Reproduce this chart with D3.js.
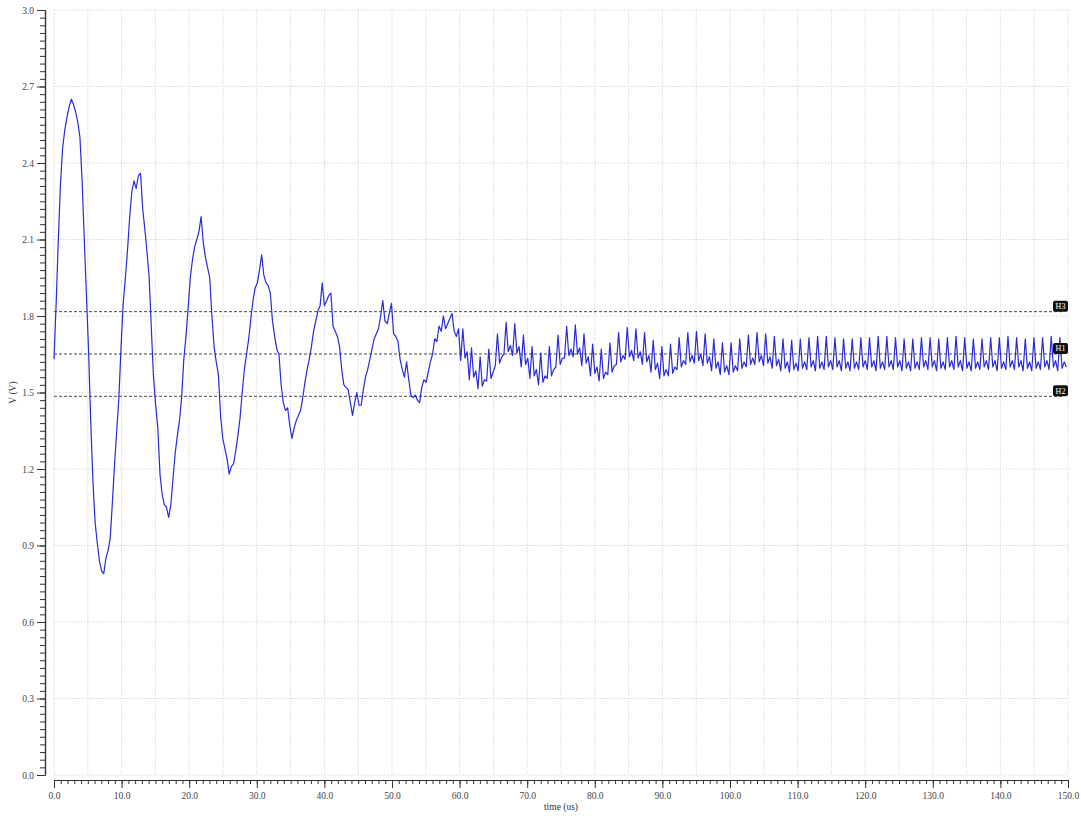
<!DOCTYPE html>
<html>
<head>
<meta charset="utf-8">
<script src="https://cdn.jsdelivr.net/npm/d3@7"></script>
<style>
  body { margin: 0; background: #fff; }
  svg { display: block; }
  .axis text { font-family: "Liberation Serif", serif; font-size: 9.5px; fill: #444; }
  .axis path, .axis line { stroke: #333; }
</style>
</head>
<body>
<div id="chart"></div>
<script>
// V(t) transient, one sample every 0.32 us
const sampleStep = 0.32; // us
const voltage = [
  1.63, 1.85, 2.10, 2.32, 2.46, 2.53, 2.58, 2.62,
  2.65, 2.63, 2.60, 2.56, 2.50, 2.33, 2.10, 1.88,
  1.66, 1.38, 1.15, 0.99, 0.91, 0.84, 0.80, 0.79,
  0.85, 0.88, 0.93, 1.07, 1.22, 1.35, 1.48, 1.68,
  1.85, 1.95, 2.06, 2.19, 2.29, 2.33, 2.30, 2.35,
  2.36, 2.22, 2.14, 2.05, 1.95, 1.75, 1.56, 1.45,
  1.36, 1.18, 1.10, 1.06, 1.05, 1.01, 1.06, 1.16,
  1.26, 1.33, 1.39, 1.48, 1.63, 1.72, 1.83, 1.95,
  2.02, 2.07, 2.10, 2.13, 2.19, 2.09, 2.03, 1.99,
  1.95, 1.80, 1.68, 1.62, 1.57, 1.41, 1.32, 1.28,
  1.24, 1.18, 1.21, 1.22, 1.27, 1.33, 1.40, 1.50,
  1.59, 1.65, 1.71, 1.79, 1.86, 1.91, 1.93, 1.98,
  2.04, 1.96, 1.93, 1.92, 1.89, 1.78, 1.72, 1.67,
  1.65, 1.53, 1.46, 1.43, 1.44, 1.37, 1.32, 1.36,
  1.39, 1.41, 1.43, 1.48, 1.54, 1.59, 1.63, 1.68,
  1.74, 1.78, 1.82, 1.84, 1.93, 1.84, 1.86, 1.88,
  1.89, 1.76, 1.74, 1.72, 1.68, 1.59, 1.53, 1.52,
  1.51, 1.46, 1.41, 1.46, 1.50, 1.45, 1.45, 1.51,
  1.56, 1.59, 1.63, 1.67, 1.71, 1.73, 1.75, 1.80,
  1.86, 1.78, 1.77, 1.81, 1.85, 1.73, 1.72, 1.70,
  1.63, 1.59, 1.56, 1.62, 1.55, 1.49, 1.48, 1.49,
  1.47, 1.46, 1.52, 1.55, 1.54, 1.58, 1.62, 1.65,
  1.71, 1.70, 1.76, 1.74, 1.80, 1.75, 1.77, 1.79,
  1.81, 1.74, 1.72, 1.75,
  // from ~60 us the switching ripple dominates (4 samples per ripple period)
  1.625, 1.75, 1.635, 1.66,
  1.55, 1.675, 1.56, 1.585,
  1.515, 1.64, 1.525, 1.55,
  1.545, 1.67, 1.555, 1.58,
  1.605, 1.73, 1.615, 1.64,
  1.65, 1.775, 1.66, 1.685,
  1.645, 1.77, 1.655, 1.68,
  1.60, 1.725, 1.61, 1.635,
  1.555, 1.68, 1.565, 1.59,
  1.53, 1.655, 1.54, 1.565,
  1.555, 1.68, 1.565, 1.59,
  1.60, 1.725, 1.61, 1.635,
  1.635, 1.76, 1.645, 1.67,
  1.64, 1.765, 1.65, 1.675,
  1.605, 1.73, 1.615, 1.64,
  1.565, 1.69, 1.575, 1.60,
  1.545, 1.67, 1.555, 1.58,
  1.57, 1.695, 1.58, 1.605,
  1.61, 1.735, 1.62, 1.645,
  1.63, 1.755, 1.64, 1.665,
  1.625, 1.75, 1.635, 1.66,
  1.61, 1.735, 1.62, 1.645,
  1.58, 1.705, 1.59, 1.615,
  1.555, 1.68, 1.565, 1.59,
  1.565, 1.69, 1.575, 1.60,
  1.59, 1.715, 1.60, 1.625,
  1.61, 1.735, 1.62, 1.645,
  1.615, 1.74, 1.625, 1.65,
  1.605, 1.73, 1.615, 1.64,
  1.585, 1.71, 1.595, 1.62,
  1.57, 1.695, 1.58, 1.605,
  1.57, 1.695, 1.58, 1.605,
  1.585, 1.71, 1.595, 1.62,
  1.60, 1.725, 1.61, 1.635,
  1.61, 1.735, 1.62, 1.645,
  1.605, 1.73, 1.615, 1.64,
  1.595, 1.72, 1.605, 1.63,
  1.585, 1.71, 1.595, 1.62,
  1.58, 1.705, 1.59, 1.615,
  1.585, 1.71, 1.595, 1.62,
  1.59, 1.715, 1.60, 1.625,
  1.585, 1.72, 1.595, 1.62,
  1.59, 1.72, 1.60, 1.625,
  1.59, 1.715, 1.60, 1.625,
  1.585, 1.71, 1.595, 1.62,
  1.585, 1.71, 1.595, 1.62,
  1.59, 1.715, 1.60, 1.625,
  1.59, 1.715, 1.60, 1.625,
  1.585, 1.72, 1.595, 1.62,
  1.59, 1.72, 1.60, 1.625,
  1.59, 1.715, 1.60, 1.625,
  1.585, 1.71, 1.595, 1.62,
  1.585, 1.71, 1.595, 1.62,
  1.59, 1.715, 1.60, 1.625,
  1.59, 1.715, 1.60, 1.625,
  1.585, 1.71, 1.595, 1.62,
  1.59, 1.715, 1.60, 1.625,
  1.59, 1.72, 1.60, 1.625,
  1.585, 1.715, 1.595, 1.62,
  1.585, 1.71, 1.595, 1.62,
  1.59, 1.71, 1.60, 1.625,
  1.59, 1.715, 1.60, 1.625,
  1.585, 1.715, 1.595, 1.62,
  1.59, 1.72, 1.60, 1.625,
  1.59, 1.715, 1.60, 1.625,
  1.585, 1.71, 1.595, 1.62,
  1.585, 1.715, 1.595, 1.62,
  1.59, 1.715, 1.60, 1.625,
  1.59, 1.72, 1.60, 1.625,
  1.585, 1.715, 1.595, 1.62,
  1.60
];

// horizontal markers
const markerNames = ["H1", "H2", "H3"];
const markerLevels = [1.651, 1.485, 1.817];

const xTickValues = [0, 10, 20, 30, 40, 50, 60, 70, 80, 90, 100, 110, 120, 130, 140, 150];
const yTickValues = [0.0, 0.3, 0.6, 0.9, 1.2, 1.5, 1.8, 2.1, 2.4, 2.7, 3.0];

const width = 1081;
const height = 816;
const plotLeft = 54, plotRight = 1068, plotTop = 10, plotBottom = 775;

const svg = d3.select("#chart").append("svg")
  .attr("width", width)
  .attr("height", height);

svg.append("rect").attr("width", width).attr("height", height).attr("fill", "#fff");

const x = d3.scaleLinear().domain([0, 150]).range([plotLeft, plotRight]);
const y = d3.scaleLinear().domain([0, 3]).range([plotBottom, plotTop]);

// grid
const grid = svg.append("g").attr("stroke", "#e2e2e2").attr("stroke-width", 1).attr("stroke-dasharray", "2,1");
grid.selectAll(".gx")
  .data(d3.range(0, 151, 5))
  .join("line")
  .attr("x1", d => x(d)).attr("x2", d => x(d))
  .attr("y1", plotTop).attr("y2", plotBottom);
grid.selectAll(".gy")
  .data(yTickValues)
  .join("line")
  .attr("x1", plotLeft).attr("x2", plotRight)
  .attr("y1", d => y(d)).attr("y2", d => y(d));

// y axis (sits a little left of the plot area)
const yAxisG = svg.append("g").attr("class", "axis").attr("transform", "translate(45,0)");
yAxisG.call(d3.axisLeft(y).tickValues(d3.range(0, 3.001, 0.03)).tickSize(5).tickSizeOuter(0).tickFormat(""));
yAxisG.append("g").call(d3.axisLeft(y).tickValues(yTickValues).tickSize(8).tickSizeOuter(0)
  .tickPadding(3).tickFormat(d3.format(".1f")));
yAxisG.selectAll("path").attr("stroke-width", 1.2);

// x axis
const xAxisG = svg.append("g").attr("class", "axis").attr("transform", "translate(0,780)");
xAxisG.call(d3.axisBottom(x).tickValues(d3.range(0, 151, 1)).tickSize(4).tickSizeOuter(0).tickFormat(""));
xAxisG.append("g").call(d3.axisBottom(x).tickValues(xTickValues).tickSize(8).tickSizeOuter(0)
  .tickPadding(4).tickFormat(d3.format(".1f")));
xAxisG.selectAll("path").attr("stroke-width", 1.2);

// axis titles
svg.append("text")
  .attr("x", (plotLeft + plotRight) / 2)
  .attr("y", 810)
  .attr("text-anchor", "middle")
  .attr("font-family", "Liberation Serif, serif")
  .attr("font-size", "9.5px")
  .attr("fill", "#333")
  .text("time (us)");

svg.append("text")
  .attr("transform", `translate(16, ${(plotTop + plotBottom) / 2}) rotate(-90)`)
  .attr("text-anchor", "middle")
  .attr("font-family", "Liberation Serif, serif")
  .attr("font-size", "9.5px")
  .attr("fill", "#333")
  .text("V (V)");

// markers
markerLevels.forEach((level, i) => {
  svg.append("line")
    .attr("x1", plotLeft).attr("x2", plotRight - 4)
    .attr("y1", y(level)).attr("y2", y(level))
    .attr("stroke", "#333")
    .attr("stroke-width", 0.9)
    .attr("stroke-dasharray", "3,2");
});

// waveform
const line = d3.line()
  .x((d, i) => x(i * sampleStep))
  .y(d => y(d));

svg.append("path")
  .datum(voltage)
  .attr("fill", "none")
  .attr("stroke", "#2a2ad8")
  .attr("stroke-width", 1.2)
  .attr("stroke-linejoin", "round")
  .attr("d", line);

// marker labels on the right
markerLevels.forEach((level, i) => {
  const g = svg.append("g").attr("transform", `translate(1053, ${y(level) - 11})`);
  g.append("rect")
    .attr("width", 15).attr("height", 11).attr("rx", 2)
    .attr("fill", "#111");
  g.append("text")
    .attr("x", 7.5).attr("y", 8.3)
    .attr("text-anchor", "middle")
    .attr("font-family", "Liberation Serif, serif")
    .attr("font-size", "8px")
    .attr("fill", "#fff")
    .text(markerNames[i]);
});
</script>
</body>
</html>
